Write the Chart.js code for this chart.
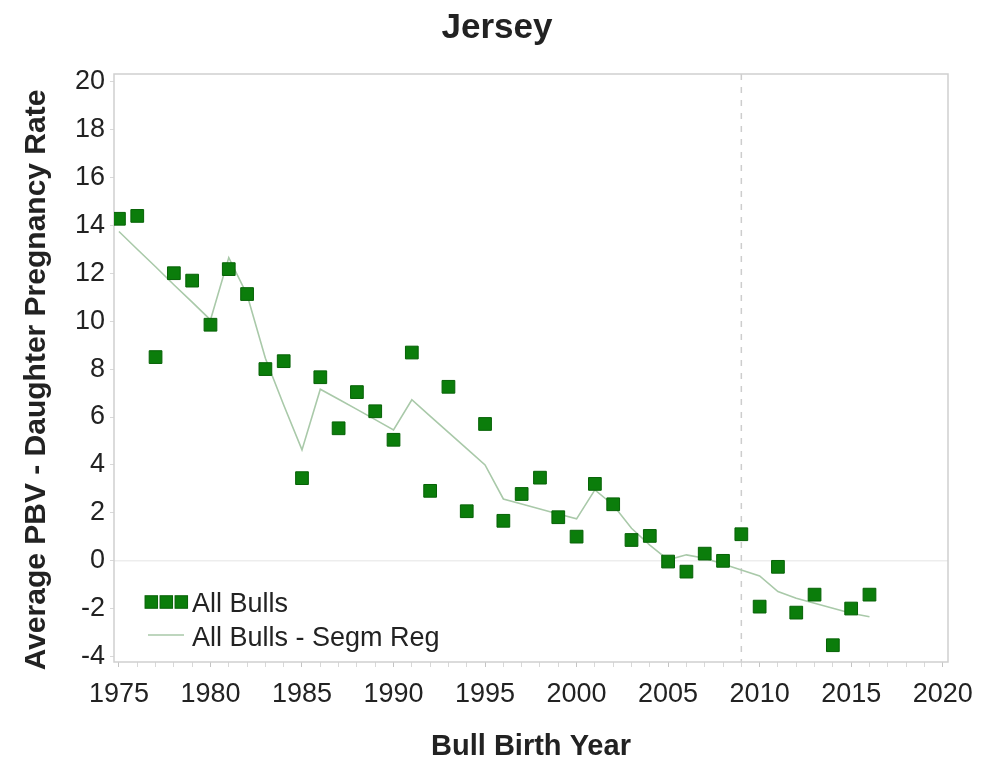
<!DOCTYPE html>
<html>
<head>
<meta charset="utf-8">
<title>Jersey</title>
<script src="https://cdn.jsdelivr.net/npm/chart.js@4/dist/chart.umd.min.js"></script>
<style>
  html, body { margin: 0; padding: 0; background: #ffffff; }
  #wrap { width: 1002px; height: 762px; position: relative; }
</style>
</head>
<body>
<div id="wrap"><canvas id="chart" width="1002" height="762"></canvas></div>
<script>
// Bull birth years
const years = [1975, 1976, 1977, 1978, 1979, 1980, 1981, 1982, 1983, 1984,
               1985, 1986, 1987, 1988, 1989, 1990, 1991, 1992, 1993, 1994,
               1995, 1996, 1997, 1998, 1999, 2000, 2001, 2002, 2003, 2004,
               2005, 2006, 2007, 2008, 2009, 2010, 2011, 2012, 2013, 2014,
               2015, 2016];

// Average PBV for daughter pregnancy rate, all bulls
const allBulls = [14.27, 14.39, 8.5, 12.0, 11.69, 9.85, 12.17, 11.13, 8.0, 8.33,
                  3.45, 7.66, 5.53, 7.04, 6.24, 5.05, 8.69, 2.92, 7.26, 2.07,
                  5.71, 1.67, 2.79, 3.47, 1.82, 1.01, 3.21, 2.36, 0.87, 1.04,
                  -0.03, -0.45, 0.30, 0.0, 1.11, -1.91, -0.25, -2.16, -1.41, -3.52,
                  -1.99, -1.41];

// Segmented regression fit
const segmReg = [13.74, 13.0, 12.27, 11.52, 10.79, 10.05, 12.65, 11.1, 8.45, 6.5,
                 4.63, 7.16, 6.74, 6.32, 5.89, 5.46, 6.72, 6.04, 5.36, 4.68,
                 4.0, 2.58, 2.37, 2.16, 1.95, 1.75, 2.96, 2.33, 1.36, 0.66,
                 0.04, 0.25, 0.11, -0.13, -0.38, -0.63, -1.28, -1.56, -1.77, -1.98,
                 -2.19, -2.33];

// Axis tick values and reference lines
const yTickValues = [-4, -2, 0, 2, 4, 6, 8, 10, 12, 14, 16, 18, 20];
const xTickLabels = [1975, 1980, 1985, 1990, 1995, 2000, 2005, 2010, 2015, 2020];
const refYear = 2009;
const refValue = 0;

const chartTitle = 'Jersey';
const xTitle = 'Bull Birth Year';
const yTitle = 'Average PBV - Daughter Pregnancy Rate';
const legendLabels = ['All Bulls', 'All Bulls - Segm Reg'];

const FONT = '"Liberation Sans", Arial, Helvetica, sans-serif';
const TEXT = '#222222';
const MARK_FILL = '#0b7d0b';
const MARK_EDGE = '#066206';
const FIT_COLOR = '#a9c9a9';
const FRAME = '#cfcfcf';

const scatterPts = years.map((y, i) => ({ x: y, y: allBulls[i] }));
const fitPts = years.map((y, i) => ({ x: y, y: segmReg[i] }));

// Frame, zero line and dashed reference year, drawn behind the data
const backdrop = {
  id: 'backdrop',
  beforeDatasetsDraw(chart) {
    const { ctx, chartArea: a, scales: { x, y } } = chart;
    ctx.save();
    const y0 = y.getPixelForValue(refValue);
    ctx.strokeStyle = '#e4e4e4';
    ctx.lineWidth = 1;
    ctx.beginPath();
    ctx.moveTo(a.left, y0);
    ctx.lineTo(a.right, y0);
    ctx.stroke();

    const xr = x.getPixelForValue(refYear);
    ctx.strokeStyle = '#cdcdcd';
    ctx.lineWidth = 1.5;
    ctx.setLineDash([6, 7]);
    ctx.beginPath();
    ctx.moveTo(xr, a.top);
    ctx.lineTo(xr, a.bottom);
    ctx.stroke();
    ctx.setLineDash([]);

    ctx.strokeStyle = FRAME;
    ctx.lineWidth = 1.5;
    ctx.strokeRect(a.left, a.top, a.right - a.left, a.bottom - a.top);
    ctx.restore();
  }
};

// Chart title, vertical axis title and the inset legend
const annotations = {
  id: 'annotations',
  afterDraw(chart) {
    const { ctx } = chart;
    ctx.save();
    ctx.fillStyle = TEXT;
    ctx.font = 'bold 35px ' + FONT;
    ctx.textAlign = 'center';
    ctx.textBaseline = 'middle';
    ctx.fillText(chartTitle, 497, 28);
    ctx.restore();

    ctx.save();
    ctx.fillStyle = TEXT;
    ctx.font = 'bold 30px ' + FONT;
    ctx.textAlign = 'center';
    ctx.textBaseline = 'middle';
    ctx.translate(37, 380);
    ctx.rotate(-Math.PI / 2);
    ctx.fillText(yTitle, 0, 0);
    ctx.restore();

    ctx.save();
    // legend row 1: three square markers
    const s = 12.5;
    [151.3, 166.3, 181.3].forEach(cx => {
      ctx.fillStyle = MARK_FILL;
      ctx.fillRect(cx - s / 2, 602 - s / 2, s, s);
      ctx.strokeStyle = MARK_EDGE;
      ctx.lineWidth = 1;
      ctx.strokeRect(cx - s / 2, 602 - s / 2, s, s);
    });
    // legend row 2: fit line sample
    ctx.strokeStyle = FIT_COLOR;
    ctx.lineWidth = 1.5;
    ctx.beginPath();
    ctx.moveTo(148, 635);
    ctx.lineTo(184, 635);
    ctx.stroke();

    ctx.fillStyle = TEXT;
    ctx.font = '27px ' + FONT;
    ctx.textAlign = 'left';
    ctx.textBaseline = 'middle';
    ctx.fillText(legendLabels[0], 192, 605);
    ctx.fillText(legendLabels[1], 192, 639);
    ctx.restore();
  }
};

new Chart(document.getElementById('chart'), {
  type: 'scatter',
  data: {
    datasets: [
      {
        label: legendLabels[1],
        type: 'line',
        data: fitPts,
        borderColor: FIT_COLOR,
        borderWidth: 1.6,
        pointRadius: 0,
        fill: false,
        tension: 0,
        order: 2
      },
      {
        label: legendLabels[0],
        data: scatterPts,
        pointStyle: 'rect',
        pointRadius: 9,
        pointHoverRadius: 9,
        backgroundColor: MARK_FILL,
        borderColor: MARK_EDGE,
        borderWidth: 1,
        order: 1
      }
    ]
  },
  options: {
    responsive: false,
    animation: false,
    events: [],
    layout: { padding: { left: 0, right: 54, top: 74, bottom: 0 } },
    plugins: {
      legend: { display: false },
      tooltip: { enabled: false },
      title: { display: false }
    },
    scales: {
      x: {
        type: 'linear',
        min: 1974.73,
        max: 2020.29,
        afterFit(scale) { scale.height = 100; },
        afterBuildTicks(scale) {
          const t = [];
          for (let v = 1975; v <= 2020; v++) t.push({ value: v });
          scale.ticks = t;
        },
        grid: {
          display: true,
          drawOnChartArea: false,
          drawTicks: true,
          tickLength: 5,
          tickColor: ctx => (ctx.tick && xTickLabels.includes(ctx.tick.value)) ? '#c4c4c4' : '#d8d8d8',
          color: FRAME
        },
        border: { display: false },
        ticks: {
          autoSkip: false,
          maxRotation: 0,
          padding: 11,
          color: TEXT,
          font: { family: FONT, size: 27 },
          callback: v => xTickLabels.includes(v) ? String(v) : ''
        },
        title: {
          display: true,
          text: xTitle,
          color: TEXT,
          font: { family: FONT, size: 29, weight: 'bold', lineHeight: 1.2 },
          padding: { top: 0, bottom: -2 }
        }
      },
      y: {
        type: 'linear',
        min: -4.22,
        max: 20.31,
        afterFit(scale) { scale.width = 114; },
        afterBuildTicks(scale) {
          scale.ticks = yTickValues.map(v => ({ value: v }));
        },
        grid: {
          display: true,
          drawOnChartArea: false,
          drawTicks: true,
          tickLength: 4,
          tickColor: '#d8d8d8',
          color: FRAME
        },
        border: { display: false },
        ticks: {
          padding: 5,
          color: TEXT,
          font: { family: FONT, size: 27 },
          callback: v => String(v)
        }
      }
    }
  },
  plugins: [backdrop, annotations]
});
</script>
</body>
</html>
